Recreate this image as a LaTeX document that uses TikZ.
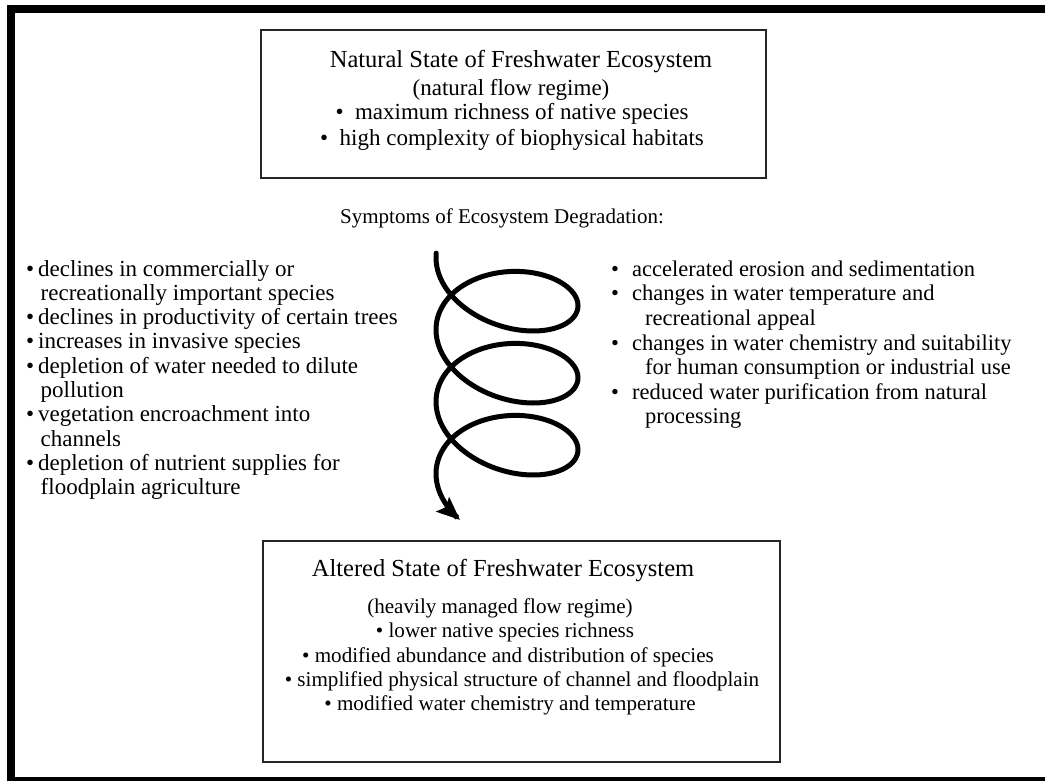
\documentclass[tikz,border=0pt]{standalone}
\usepackage{fontspec}
\setmainfont{Liberation Serif}
\usetikzlibrary{arrows.meta}
\begin{document}
\begin{tikzpicture}[x=1pt,y=-1pt,
  frame/.style={line width=8pt},
  statebox/.style={draw=black!85, line width=1.3pt, inner sep=0pt},
  ln/.style={inner sep=0pt, anchor=base, font=\fontsize{#1}{#1}\selectfont},
  lnw/.style={inner sep=0pt, anchor=base west, font=\fontsize{#1}{#1}\selectfont},
  spiral/.style={line width=5pt, line cap=round,
    -{Stealth[length=23pt,width=19pt,inset=4pt]}}]
\useasboundingbox (0,0) rectangle (1045,781);
\clip (0,0) rectangle (1045,781);

% outer frame
\draw[frame] (11,9) rectangle (1070,781);

% natural state box
\node[statebox, minimum width=505pt, minimum height=148pt] (natural) at (513.5,104) {};
\node[ln=24.5] (nat1) at (521,68) {Natural State of Freshwater Ecosystem};
\node[ln=23] (nat2) at (511,96) {(natural flow regime)};
\node[ln=23] (nat3) at (512,120) {•\hspace{0.5em}maximum richness of native species};
\node[ln=23] (nat4) at (512,146) {•\hspace{0.5em}high complexity of biophysical habitats};

% heading
\node[ln=21] (symptoms) at (502,224) {Symptoms of Ecosystem Degradation:};

% left list
\node[lnw=23] (l1)  at (26,276)   {\makebox[12pt][l]{•}declines in commercially or};
\node[lnw=23] (l2)  at (40.5,300) {recreationally important species};
\node[lnw=23] (l3)  at (26,324.5) {\makebox[12pt][l]{•}declines in productivity of certain trees};
\node[lnw=23] (l4)  at (26,348.5) {\makebox[12pt][l]{•}increases in invasive species};
\node[lnw=23] (l5)  at (26,373)   {\makebox[12pt][l]{•}depletion of water needed to dilute};
\node[lnw=23] (l6)  at (40.5,397) {pollution};
\node[lnw=23] (l7)  at (26,421.5) {\makebox[12pt][l]{•}vegetation encroachment into};
\node[lnw=23] (l8)  at (40.5,446) {channels};
\node[lnw=23] (l9)  at (26,470)   {\makebox[12pt][l]{•}depletion of nutrient supplies for};
\node[lnw=23] (l10) at (40.5,494.5) {floodplain agriculture};

% right list
\node[lnw=22.5] (r1) at (611,276)   {\makebox[21pt][l]{•}accelerated erosion and sedimentation};
\node[lnw=22.5] (r2) at (611,300.5) {\makebox[21pt][l]{•}changes in water temperature and};
\node[lnw=22.5] (r3) at (645,325)   {recreational appeal};
\node[lnw=22.5] (r4) at (611,350)   {\makebox[21pt][l]{•}changes in water chemistry and suitability};
\node[lnw=22.5] (r5) at (645,374.5) {for human consumption or industrial use};
\node[lnw=22.5] (r6) at (611,399)   {\makebox[21pt][l]{•}reduced water purification from natural};
\node[lnw=22.5] (r7) at (645,423.5) {processing};

% downward spiral
\draw[spiral] plot[domain=-0.08:19.70, samples=320, smooth]
  ({507-71*cos(\x r)}, {263.7+11.46*\x+46*sin(\x r)-6*cos(\x r)});

% altered state box
\node[statebox, minimum width=517pt, minimum height=221pt] (altered) at (521.5,651.5) {};
\node[ln=24.5] (alt1) at (503,576) {Altered State of Freshwater Ecosystem};
\node[ln=21.1] (alt2) at (500,613) {(heavily managed flow regime)};
\node[ln=21.1] (alt3) at (505,637) {• lower native species richness};
\node[ln=21.1] (alt4) at (508,662) {• modified abundance and distribution of species};
\node[ln=21.1] (alt5) at (522,686) {• simplified physical structure of channel and floodplain};
\node[ln=21.1] (alt6) at (510,710) {• modified water chemistry and temperature};
\end{tikzpicture}
\end{document}
